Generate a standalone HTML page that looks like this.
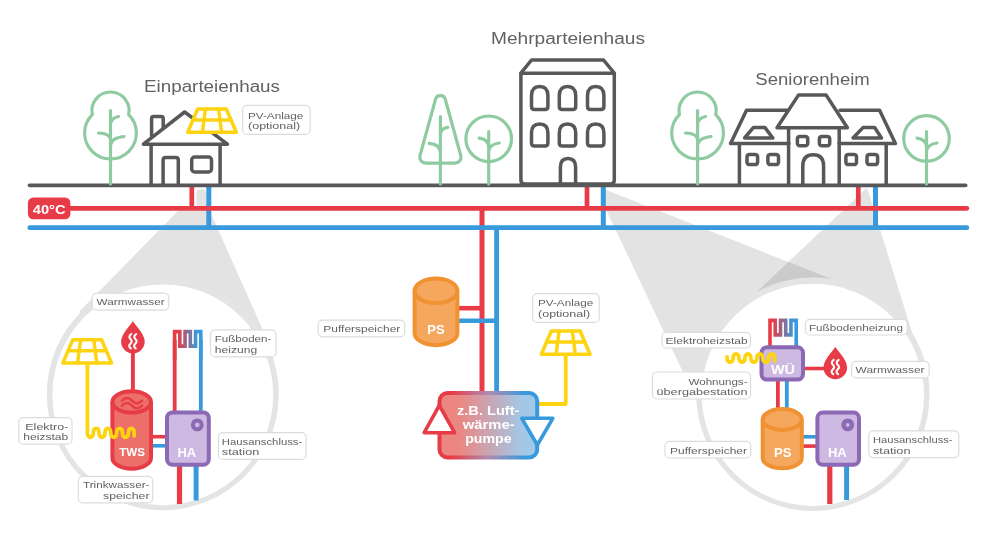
<!DOCTYPE html>
<html lang="de"><head><meta charset="utf-8"><title>Kalte Nahwärme 40°C</title>
<style>html,body{margin:0;padding:0;background:#fff}svg{display:block}text{font-family:"Liberation Sans",sans-serif}</style>
</head><body>
<svg width="1000" height="550" viewBox="0 0 1000 550">
<g style="filter:opacity(1)">
<path fill="#000" fill-opacity="0.108" d="M196.4 193.5 Q196.4 189.2 201.2 189.2 Q206 189.2 206 193.5 L206 202.21 L270.16 346.44 L162.8 394.2 L78.89 311.95 L180.79 208 L196.4 208 Z"/>
<path fill="#000" fill-opacity="0.108" d="M603.4 188.6 L605 189.6 L850 286.3 L812.9 394.2 L697 402 L603.4 204 Z"/>
<path fill="#000" fill-opacity="0.108" d="M864 190.5 Q866 185.5 868 190.5 L920.46 359.55 L812.9 394.2 L735.94 311.45 Z"/>
<circle cx="162.8" cy="394.2" r="116" fill="#E3E4E5"/>
<circle cx="162.8" cy="394.8" r="110.4" fill="#fff"/>
<circle cx="812.9" cy="394.2" r="116.7" fill="#E3E4E5"/>
<circle cx="812.9" cy="394.8" r="111.1" fill="#fff"/>
<g fill="none" stroke-linecap="round">
<path stroke="#389ADC" stroke-width="5" stroke-linecap="butt" d="M208.8 186 L208.8 228 M603.3 186 L603.3 228 M875.5 186 L875.5 228"/>
<path stroke="#E73C47" stroke-width="4.8" d="M60 208.3 L966.8 208.3"/>
<path stroke="#E73C47" stroke-width="4.7" stroke-linecap="butt" d="M191.8 186 L191.8 208 M587 186 L587 208 M858.3 186 L858.3 208"/>
<path stroke="#E73C47" stroke-width="5" stroke-linecap="butt" d="M482 208 L482 393"/>
<path stroke="#389ADC" stroke-width="4.8" d="M29.8 227.7 L966.8 227.7"/>
<path stroke="#389ADC" stroke-width="4.8" stroke-linecap="butt" d="M496.6 228 L496.6 393"/>
</g>
<path stroke="#58585A" stroke-width="3.7" stroke-linecap="round" d="M29.5 185.3 L965.6 185.3"/>
<rect x="27.9" y="197.4" width="42.5" height="21.9" rx="5.5" fill="#E73C47"/>
<text x="49.2" y="213.6" font-size="13.6" font-weight="bold" fill="#fff" text-anchor="middle" textLength="32.8" lengthAdjust="spacingAndGlyphs">40°C</text>
<g fill="none" stroke="#8FCBA0" stroke-width="3.2" stroke-linecap="round" stroke-linejoin="round">
<path d="M92.32 114.55 A18.6 18.6 0 1 1 128.68 114.55 A25.9 25.9 0 1 1 92.32 114.55 Z"/>
<path d="M110.5 110.5 L110.5 184 M110.5 124 c0.5 -4 3 -6.5 8 -7.5 M110.5 139.5 c-0.5 -4.5 -4 -6.3 -12 -6.5 M110.5 145 c0.5 -4.5 4.5 -7.5 13.5 -8.5"/>
</g>
<g fill="none" stroke="#8FCBA0" stroke-width="3.2" stroke-linecap="round" stroke-linejoin="round">
<path d="M420 155.6 L435.4 99.8 A5.1 5.1 0 0 1 445.4 99.8 L460.8 155.6 A6 6 0 0 1 455 163.2 L425.8 163.2 A6 6 0 0 1 420 155.6 Z"/>
<path d="M440.4 116.5 L440.4 184 M440.4 134 c0.3 -4 2.5 -6 7.3 -6.6 M440.4 152 c-0.5 -5 -4 -8 -11.2 -8.6"/>
</g>
<g fill="none" stroke="#8FCBA0" stroke-width="3.2" stroke-linecap="round" stroke-linejoin="round">
<circle cx="488.7" cy="138.8" r="22.8"/>
<path d="M488.7 131.5 L488.7 184 M488.7 146.5 c-0.5 -5 -3 -7.5 -9.5 -8.3 M488.7 151 c0.5 -4.5 3.5 -7 10.5 -8"/>
</g>
<g fill="none" stroke="#8FCBA0" stroke-width="3.2" stroke-linecap="round" stroke-linejoin="round">
<path d="M679.42 114.55 A18.6 18.6 0 1 1 715.78 114.55 A25.9 25.9 0 1 1 679.42 114.55 Z"/>
<path d="M697.6 110.5 L697.6 184 M697.6 124 c0.5 -4 3 -6.5 8 -7.5 M697.6 139.5 c-0.5 -4.5 -4 -6.3 -12 -6.5 M697.6 145 c0.5 -4.5 4.5 -7.5 13.5 -8.5"/>
</g>
<g fill="none" stroke="#8FCBA0" stroke-width="3.2" stroke-linecap="round" stroke-linejoin="round">
<circle cx="926.5" cy="138.4" r="22.8"/>
<path d="M926.5 131.5 L926.5 184 M926.5 146.5 c-0.5 -5 -3 -7.5 -9.5 -8.3 M926.5 151 c0.5 -4.5 3.5 -7 10.5 -8"/>
</g>
<g fill="none" stroke="#58585A" stroke-width="3.5" stroke-linecap="round" stroke-linejoin="round">
<path d="M151.6 136 L151.6 118.4 Q151.6 116.5 153.5 116.5 L161.3 116.5 Q163.2 116.5 163.2 118.4 L163.2 128"/>
<path d="M184.6 112 L143.4 144.2 L227.4 144.2 Z" fill="#fff"/>
<path d="M151.1 145 L151.1 184 M220.1 145 L220.1 184"/>
<path d="M163.1 184 L163.1 160 Q163.1 157.4 165.7 157.4 L175.7 157.4 Q178.3 157.4 178.3 160 L178.3 184"/>
<rect x="191.7" y="157.1" width="19.8" height="14.8" rx="3"/>
</g>
<g fill="none" stroke="#FDD40F" stroke-width="3.5" stroke-linejoin="round" stroke-linecap="round">
<path fill="#fff" d="M197.6 109.1 L226.4 109.1 L236.3 132.3 L187.7 132.3 Z"/>
<path d="M192.91 120.1 L231.09 120.1 M205.4 109.1 L202.4 132.3 M218.6 109.1 L221.6 132.3"/>
</g>
<g fill="none" stroke="#58585A" stroke-width="3.5" stroke-linecap="round" stroke-linejoin="round">
<path d="M520.9 73.2 L531.5 60 L603.5 60 L614.3 73.2"/>
<path d="M520.9 73.2 L614.3 73.2 L614.3 180 Q614.3 184 610.3 184 L524.9 184 Q520.9 184 520.9 180 Z"/>
<path d="M531.5 106.6 L531.5 95.6 C531.5 89.6 534.7 86.6 539.7 86.6 C544.7 86.6 547.9 89.6 547.9 95.6 L547.9 106.6 Q547.9 109.6 544.9 109.6 L534.5 109.6 Q531.5 109.6 531.5 106.6 Z"/>
<path d="M531.5 143 L531.5 133.1 C531.5 127.1 534.7 124.1 539.7 124.1 C544.7 124.1 547.9 127.1 547.9 133.1 L547.9 143 Q547.9 146 544.9 146 L534.5 146 Q531.5 146 531.5 143 Z"/>
<path d="M559.3 106.6 L559.3 95.6 C559.3 89.6 562.5 86.6 567.5 86.6 C572.5 86.6 575.7 89.6 575.7 95.6 L575.7 106.6 Q575.7 109.6 572.7 109.6 L562.3 109.6 Q559.3 109.6 559.3 106.6 Z"/>
<path d="M559.3 143 L559.3 133.1 C559.3 127.1 562.5 124.1 567.5 124.1 C572.5 124.1 575.7 127.1 575.7 133.1 L575.7 143 Q575.7 146 572.7 146 L562.3 146 Q559.3 146 559.3 143 Z"/>
<path d="M587.5 106.6 L587.5 95.6 C587.5 89.6 590.7 86.6 595.7 86.6 C600.7 86.6 603.9 89.6 603.9 95.6 L603.9 106.6 Q603.9 109.6 600.9 109.6 L590.5 109.6 Q587.5 109.6 587.5 106.6 Z"/>
<path d="M587.5 143 L587.5 133.1 C587.5 127.1 590.7 124.1 595.7 124.1 C600.7 124.1 603.9 127.1 603.9 133.1 L603.9 143 Q603.9 146 600.9 146 L590.5 146 Q587.5 146 587.5 143 Z"/>
<path d="M560.4 184 L560.4 167 Q560.4 158.6 568 158.6 Q575.6 158.6 575.6 167 L575.6 184"/>
</g>
<g fill="none" stroke="#58585A" stroke-width="3.5" stroke-linecap="round" stroke-linejoin="round">
<path d="M787 110.2 L746.5 110.2 L730.6 143.6 L789 143.6 M840 110.2 L879.6 110.2 L895.4 143.6 L839 143.6"/>
<path d="M739.4 145 L739.4 184 M886.2 145 L886.2 184"/>
<path d="M798.6 94.9 L826 94.9 L847.4 127.8 L777 127.8 Z" fill="#fff"/>
<path d="M788.6 129 L788.6 184 M839.2 129 L839.2 184"/>
<path d="M744.6 138 L753.5 127.4 L764.8 127.4 L772.8 138 Z M853 138 L863.2 127.4 L874.6 127.4 L881.4 138 Z"/>
<rect x="747" y="154.4" width="10.6" height="10.2" rx="2.4"/>
<rect x="767.9" y="154.4" width="10.6" height="10.2" rx="2.4"/>
<rect x="845.9" y="154.4" width="10.6" height="10.2" rx="2.4"/>
<rect x="867" y="154.4" width="10.6" height="10.2" rx="2.4"/>
<rect x="797.4" y="136.4" width="10.3" height="9.4" rx="2.4"/>
<rect x="819.4" y="136.4" width="10.3" height="9.4" rx="2.4"/>
<path d="M802.8 184 L802.8 166 Q802.8 154.7 813.2 154.7 Q823.6 154.7 823.6 166 L823.6 184"/>
</g>
<text x="144" y="91.8" font-size="15.6" fill="#626264" textLength="136" lengthAdjust="spacingAndGlyphs">Einparteienhaus</text>
<text x="491" y="43.6" font-size="15.6" fill="#626264" textLength="154" lengthAdjust="spacingAndGlyphs">Mehrparteienhaus</text>
<text x="755.3" y="85.3" font-size="15.6" fill="#626264" textLength="114.5" lengthAdjust="spacingAndGlyphs">Seniorenheim</text>
<rect x="242.6" y="105.4" width="67.6" height="29" rx="4.5" fill="#fff" stroke="#DADCDE" stroke-width="1.2"/>
<text x="248" y="118.6" font-size="9.8" fill="#626264" text-anchor="start" textLength="55.3" lengthAdjust="spacingAndGlyphs">PV-Anlage</text>
<text x="248" y="129.4" font-size="9.8" fill="#626264" text-anchor="start" textLength="52.2" lengthAdjust="spacingAndGlyphs">(optional)</text>
<path stroke="#E73C47" stroke-width="5.2" d="M179.5 460 L179.5 504"/>
<path stroke="#389ADC" stroke-width="5" d="M196.1 460 L196.1 500.5"/>
<defs>
<linearGradient id="mg1" gradientUnits="userSpaceOnUse" x1="174.6" y1="0" x2="200.8" y2="0"><stop offset="0" stop-color="#E73C47"/><stop offset="0.12" stop-color="#E73C47"/><stop offset="0.88" stop-color="#389ADC"/><stop offset="1" stop-color="#389ADC"/></linearGradient>
<linearGradient id="mg2" gradientUnits="userSpaceOnUse" x1="770" y1="0" x2="796.2" y2="0"><stop offset="0" stop-color="#E73C47"/><stop offset="0.12" stop-color="#E73C47"/><stop offset="0.88" stop-color="#389ADC"/><stop offset="1" stop-color="#389ADC"/></linearGradient>
</defs>
<path fill="none" stroke="url(#mg1)" stroke-width="3.6" stroke-linejoin="miter" d="M174.6 360.1 L174.6 331.6 L179.84 331.6 L179.84 346.1 L185.08 346.1 L185.08 331.6 L190.32 331.6 L190.32 346.1 L195.56 346.1 L195.56 331.6 L200.8 331.6 L200.8 360.1"/>
<path stroke="#E73C47" stroke-width="3.8" d="M174.7 340 L174.7 414"/>
<path stroke="#389ADC" stroke-width="3.8" d="M200.8 340 L200.8 414"/>
<path stroke="#E73C47" stroke-width="3.6" d="M150 436.7 L168 436.7"/>
<path stroke="#389ADC" stroke-width="3.6" d="M150 445.8 L168 445.8"/>
<path stroke="#E73C47" stroke-width="3.9" d="M132.9 350 L132.9 392"/>
<path fill="#E73C47" stroke="#E73C47" stroke-width="1.6" stroke-linejoin="round" d="M132.9 322.4 C135.9 327.4 143.9 333.6 143.9 341.6 A11 11 0 0 1 121.9 341.6 C121.9 333.6 129.9 327.4 132.9 322.4 Z"/>
<path fill="none" stroke="#fff" stroke-width="2.1" stroke-linecap="round" d="M131.3 334 q-3.3 2.4 -0.9 4.9 q2.6 2.4 0 4.9 q-2.6 2.5 0.4 4.6"/>
<path fill="none" stroke="#fff" stroke-width="2.1" stroke-linecap="round" d="M136.2 334 q-3.3 2.4 -0.9 4.9 q2.6 2.4 0 4.9 q-2.6 2.5 0.4 4.6"/>
<path fill="#EC6F69" stroke="#E73C47" stroke-width="4" stroke-linejoin="round" d="M112.4 401.9 A19.3 10.6 0 0 1 151 401.9 L151 458.1 A19.3 10.6 0 0 1 112.4 458.1 Z"/>
<path fill="none" stroke="#E73C47" stroke-width="4" d="M112.4 401.9 A19.3 10.6 0 0 0 151 401.9"/>
<path fill="none" stroke="#E73C47" stroke-width="2.5" stroke-linecap="round" d="M122 400.6 c3.3 -3.4 6.6 -3.4 10 0 c3.4 3.4 6.7 3.4 10 0 M122 405.6 c3.3 -3.4 6.6 -3.4 10 0 c3.4 3.4 6.7 3.4 10 0"/>
<text x="132.1" y="456.4" font-size="11.3" font-weight="bold" fill="#fff" text-anchor="middle" textLength="25.7" lengthAdjust="spacingAndGlyphs">TWS</text>
<rect x="167" y="412.4" width="41.8" height="52.4" rx="5.5" fill="#CDB9E1" stroke="#8C69B4" stroke-width="4"/>
<circle cx="197.3" cy="424.9" r="4.4" fill="#CDB9E1" stroke="#8C69B4" stroke-width="4.1"/>
<text x="186.8" y="456.5" font-size="12.3" font-weight="bold" fill="#fff" text-anchor="middle" textLength="18.8" lengthAdjust="spacingAndGlyphs">HA</text>
<path fill="none" stroke="#FDD40F" stroke-width="3.8" stroke-linecap="round" stroke-linejoin="round" d="M87.4 362 L87.4 433.2 c0 5.4 5.85 5.4 5.85 0 c0 -6.4 5.85 -6.4 5.85 0 c0 5.4 5.85 5.4 5.85 0 c0 -6.4 5.85 -6.4 5.85 0 c0 5.4 5.85 5.4 5.85 0 c0 -6.4 5.85 -6.4 5.85 0 c0 5.4 5.85 5.4 5.85 0 c0 -6.4 5.85 -6.4 5.85 0 l0 2.6"/>
<g fill="none" stroke="#FDD40F" stroke-width="3.5" stroke-linejoin="round" stroke-linecap="round">
<path fill="#fff" d="M72.8 339.7 L101.6 339.7 L111.5 362.9 L62.9 362.9 Z"/>
<path d="M68.11 350.7 L106.29 350.7 M80.6 339.7 L77.6 362.9 M93.8 339.7 L96.8 362.9"/>
</g>
<rect x="92.2" y="293.1" width="76.6" height="17" rx="4.5" fill="#fff" stroke="#DADCDE" stroke-width="1.2"/>
<text x="96.6" y="305" font-size="9.8" fill="#626264" text-anchor="start" textLength="68" lengthAdjust="spacingAndGlyphs">Warmwasser</text>
<rect x="210.5" y="329.9" width="65.4" height="27" rx="4.5" fill="#fff" stroke="#DADCDE" stroke-width="1.2"/>
<text x="214.8" y="342.1" font-size="9.8" fill="#626264" text-anchor="start" textLength="56.5" lengthAdjust="spacingAndGlyphs">Fußboden-</text>
<text x="214.8" y="352.8" font-size="9.8" fill="#626264" text-anchor="start" textLength="42.5" lengthAdjust="spacingAndGlyphs">heizung</text>
<rect x="218.5" y="432.6" width="87.6" height="26.8" rx="4.5" fill="#fff" stroke="#DADCDE" stroke-width="1.2"/>
<text x="221.8" y="444.6" font-size="9.8" fill="#626264" text-anchor="start" textLength="80.5" lengthAdjust="spacingAndGlyphs">Hausanschluss-</text>
<text x="221.8" y="455.4" font-size="9.8" fill="#626264" text-anchor="start" textLength="37.5" lengthAdjust="spacingAndGlyphs">station</text>
<rect x="18.8" y="417.6" width="53.2" height="26.6" rx="4.5" fill="#fff" stroke="#DADCDE" stroke-width="1.2"/>
<text x="68.3" y="429.6" font-size="9.8" fill="#626264" text-anchor="end" textLength="43" lengthAdjust="spacingAndGlyphs">Elektro-</text>
<text x="68.3" y="440.4" font-size="9.8" fill="#626264" text-anchor="end" textLength="45" lengthAdjust="spacingAndGlyphs">heizstab</text>
<rect x="78.3" y="476.4" width="74.4" height="26.4" rx="4.5" fill="#fff" stroke="#DADCDE" stroke-width="1.2"/>
<text x="149.5" y="488.2" font-size="9.8" fill="#626264" text-anchor="end" textLength="66.5" lengthAdjust="spacingAndGlyphs">Trinkwasser-</text>
<text x="149.5" y="499.2" font-size="9.8" fill="#626264" text-anchor="end" textLength="46.5" lengthAdjust="spacingAndGlyphs">speicher</text>
<path stroke="#E73C47" stroke-width="4.6" d="M456 308.2 L482 308.2"/>
<path stroke="#389ADC" stroke-width="4.6" d="M456 320.8 L497 320.8"/>
<path fill="#F5A75E" stroke="#F09132" stroke-width="4" stroke-linejoin="round" d="M414.6 290.8 A21.4 12.3 0 0 1 457.4 290.8 L457.4 332.9 A21.4 12.3 0 0 1 414.6 332.9 Z"/>
<path fill="none" stroke="#F09132" stroke-width="4" d="M414.6 290.8 A21.4 12.3 0 0 0 457.4 290.8"/>
<text x="436" y="334.3" font-size="12.3" font-weight="bold" fill="#fff" text-anchor="middle" textLength="17.4" lengthAdjust="spacingAndGlyphs">PS</text>
<path fill="none" stroke="#FDD40F" stroke-width="3.8" stroke-linejoin="round" d="M565.7 354 L565.7 404 L537 404"/>
<g fill="none" stroke="#FDD40F" stroke-width="3.5" stroke-linejoin="round" stroke-linecap="round">
<path fill="#fff" d="M551.3 331 L580.1 331 L590 354.2 L541.4 354.2 Z"/>
<path d="M546.61 342 L584.79 342 M559.1 331 L556.1 354.2 M572.3 331 L575.3 354.2"/>
</g>
<defs>
<linearGradient id="hpS" x1="0" y1="0" x2="1" y2="0"><stop offset="0" stop-color="#E73C47"/><stop offset="0.12" stop-color="#E73C47"/><stop offset="0.5" stop-color="#AE8CB2"/><stop offset="0.88" stop-color="#389ADC"/><stop offset="1" stop-color="#389ADC"/></linearGradient>
<linearGradient id="hpF" x1="0" y1="0" x2="1" y2="0"><stop offset="0" stop-color="#EC8682"/><stop offset="0.2" stop-color="#EC8682"/><stop offset="0.85" stop-color="#A2C8E8"/><stop offset="1" stop-color="#A2C8E8"/></linearGradient>
</defs>
<rect x="439.5" y="393" width="97.7" height="64.5" rx="8" fill="url(#hpF)" stroke="url(#hpS)" stroke-width="4"/>
<path fill="#fff" stroke="#E73C47" stroke-width="3.6" stroke-linejoin="round" d="M439.3 405.4 L454.6 432.7 L424.2 432.7 Z"/>
<path fill="#fff" stroke="#389ADC" stroke-width="3.6" stroke-linejoin="round" d="M521.8 418.3 L552.8 418.3 L537.3 445 Z"/>
<text x="488.2" y="414.6" font-size="12.4" font-weight="bold" fill="#fff" text-anchor="middle" textLength="62.4" lengthAdjust="spacingAndGlyphs">z.B. Luft-</text>
<text x="488.7" y="428.6" font-size="12.4" font-weight="bold" fill="#fff" text-anchor="middle" textLength="52" lengthAdjust="spacingAndGlyphs">wärme-</text>
<text x="488.4" y="442.8" font-size="12.4" font-weight="bold" fill="#fff" text-anchor="middle" textLength="46.5" lengthAdjust="spacingAndGlyphs">pumpe</text>
<rect x="318.2" y="320.2" width="86.5" height="16.6" rx="4.5" fill="#fff" stroke="#DADCDE" stroke-width="1.2"/>
<text x="323.3" y="332.4" font-size="9.8" fill="#626264" text-anchor="start" textLength="77" lengthAdjust="spacingAndGlyphs">Pufferspeicher</text>
<rect x="532.7" y="293.6" width="66.5" height="28.8" rx="4.5" fill="#fff" stroke="#DADCDE" stroke-width="1.2"/>
<text x="538" y="306.2" font-size="9.8" fill="#626264" text-anchor="start" textLength="55.3" lengthAdjust="spacingAndGlyphs">PV-Anlage</text>
<text x="538" y="317.2" font-size="9.8" fill="#626264" text-anchor="start" textLength="52.2" lengthAdjust="spacingAndGlyphs">(optional)</text>
<path stroke="#E73C47" stroke-width="5.2" d="M829.8 460 L829.8 504"/>
<path stroke="#389ADC" stroke-width="5" d="M846.6 460 L846.6 500"/>
<path fill="none" stroke="url(#mg2)" stroke-width="3.6" d="M770 348.9 L770 320.4 L775.24 320.4 L775.24 334.9 L780.48 334.9 L780.48 320.4 L785.72 320.4 L785.72 334.9 L790.96 334.9 L790.96 320.4 L796.2 320.4 L796.2 348.9"/>
<path stroke="#E73C47" stroke-width="3.8" d="M777.9 378 L777.9 412"/>
<path stroke="#389ADC" stroke-width="3.8" d="M786.8 378 L786.8 412"/>
<path stroke="#E73C47" stroke-width="3.6" d="M803 368.5 L826 368.5"/>
<path fill="#E73C47" stroke="#E73C47" stroke-width="1.6" stroke-linejoin="round" d="M835.3 348.2 C838.3 353.2 846.3 359.4 846.3 367.4 A11 11 0 0 1 824.3 367.4 C824.3 359.4 832.3 353.2 835.3 348.2 Z"/>
<path fill="none" stroke="#fff" stroke-width="2.1" stroke-linecap="round" d="M833.7 359.8 q-3.3 2.4 -0.9 4.9 q2.6 2.4 0 4.9 q-2.6 2.5 0.4 4.6"/>
<path fill="none" stroke="#fff" stroke-width="2.1" stroke-linecap="round" d="M838.6 359.8 q-3.3 2.4 -0.9 4.9 q2.6 2.4 0 4.9 q-2.6 2.5 0.4 4.6"/>
<rect x="761.5" y="347.2" width="41.5" height="32.4" rx="5.5" fill="#CDB9E1" stroke="#8C69B4" stroke-width="4"/>
<text x="783" y="373.6" font-size="13.2" font-weight="bold" fill="#fff" text-anchor="middle" textLength="24" lengthAdjust="spacingAndGlyphs">WÜ</text>
<path fill="none" stroke="#FDD40F" stroke-width="3.8" stroke-linecap="round" stroke-linejoin="round" d="M727.1 357 L727.1 358.4 c0 4.8 5.95 4.8 5.95 0 c0 -6.1 5.95 -6.1 5.95 0 c0 4.8 5.95 4.8 5.95 0 c0 -6.1 5.95 -6.1 5.95 0 c0 4.8 5.95 4.8 5.95 0 c0 -6.1 5.95 -6.1 5.95 0 c0 4.8 5.95 4.8 5.95 0 c0 -6.1 5.95 -6.1 5.95 0 l0 2.4"/>
<path stroke="#389ADC" stroke-width="3.6" d="M800 436.8 L818 436.8"/>
<path stroke="#E73C47" stroke-width="3.6" d="M800 446.1 L818 446.1"/>
<path fill="#F5A75E" stroke="#F09132" stroke-width="4" stroke-linejoin="round" d="M762.7 419.5 A19.55 10.4 0 0 1 801.8 419.5 L801.8 457.9 A19.55 10.4 0 0 1 762.7 457.9 Z"/>
<path fill="none" stroke="#F09132" stroke-width="4" d="M762.7 419.5 A19.55 10.4 0 0 0 801.8 419.5"/>
<text x="782.8" y="456.6" font-size="12.3" font-weight="bold" fill="#fff" text-anchor="middle" textLength="17.4" lengthAdjust="spacingAndGlyphs">PS</text>
<rect x="817.4" y="412.6" width="41.6" height="52.2" rx="5.5" fill="#CDB9E1" stroke="#8C69B4" stroke-width="4"/>
<circle cx="847.7" cy="424.9" r="4.2" fill="#CDB9E1" stroke="#8C69B4" stroke-width="4.5"/>
<text x="837.3" y="456.6" font-size="12.3" font-weight="bold" fill="#fff" text-anchor="middle" textLength="18.8" lengthAdjust="spacingAndGlyphs">HA</text>
<rect x="662" y="332.4" width="88.5" height="15.6" rx="4.5" fill="#fff" stroke="#DADCDE" stroke-width="1.2"/>
<text x="665.6" y="344" font-size="9.8" fill="#626264" text-anchor="start" textLength="82" lengthAdjust="spacingAndGlyphs">Elektroheizstab</text>
<rect x="805.4" y="319.4" width="102" height="15.6" rx="4.5" fill="#fff" stroke="#DADCDE" stroke-width="1.2"/>
<text x="809" y="330.6" font-size="9.8" fill="#626264" text-anchor="start" textLength="94" lengthAdjust="spacingAndGlyphs">Fußbodenheizung</text>
<rect x="851.6" y="361.3" width="77.6" height="16.6" rx="4.5" fill="#fff" stroke="#DADCDE" stroke-width="1.2"/>
<text x="855.6" y="373.3" font-size="9.8" fill="#626264" text-anchor="start" textLength="69" lengthAdjust="spacingAndGlyphs">Warmwasser</text>
<rect x="652.4" y="372" width="98.1" height="27" rx="4.5" fill="#fff" stroke="#DADCDE" stroke-width="1.2"/>
<text x="747.5" y="384.6" font-size="9.8" fill="#626264" text-anchor="end" textLength="59" lengthAdjust="spacingAndGlyphs">Wohnungs-</text>
<text x="747.5" y="394.6" font-size="9.8" fill="#626264" text-anchor="end" textLength="91" lengthAdjust="spacingAndGlyphs">übergabestation</text>
<rect x="665" y="441.4" width="85.8" height="16.6" rx="4.5" fill="#fff" stroke="#DADCDE" stroke-width="1.2"/>
<text x="670" y="454" font-size="9.8" fill="#626264" text-anchor="start" textLength="77" lengthAdjust="spacingAndGlyphs">Pufferspeicher</text>
<rect x="868.8" y="430.8" width="90" height="26.8" rx="4.5" fill="#fff" stroke="#DADCDE" stroke-width="1.2"/>
<text x="873" y="442.8" font-size="9.8" fill="#626264" text-anchor="start" textLength="79.6" lengthAdjust="spacingAndGlyphs">Hausanschluss-</text>
<text x="873" y="453.5" font-size="9.8" fill="#626264" text-anchor="start" textLength="37.5" lengthAdjust="spacingAndGlyphs">station</text>
</g>
</svg>
</body></html>
